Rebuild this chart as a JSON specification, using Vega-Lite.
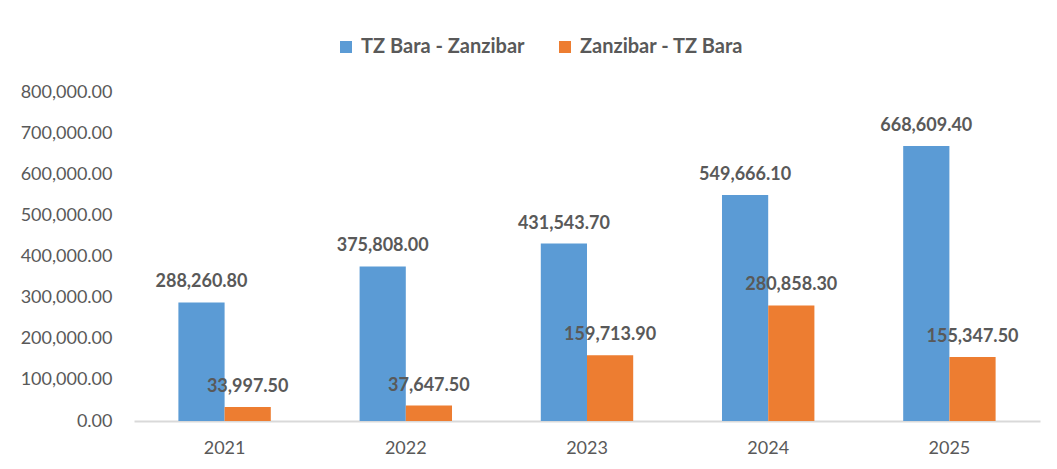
{
  "$schema": "https://vega.github.io/schema/vega-lite/v6.json",
  "autosize": {"type": "none"},
  "width": 906,
  "height": 329,
  "padding": {"left": 134, "top": 92, "right": 17, "bottom": 48},
  "background": "white",
  "config": {
    "view": {"stroke": null},
    "font": "Lato"
  },
  "data": {
    "values": [
      {"year": "2021", "series": "TZ Bara - Zanzibar", "value": 288260.8},
      {"year": "2021", "series": "Zanzibar - TZ Bara", "value": 33997.5},
      {"year": "2022", "series": "TZ Bara - Zanzibar", "value": 375808.0},
      {"year": "2022", "series": "Zanzibar - TZ Bara", "value": 37647.5},
      {"year": "2023", "series": "TZ Bara - Zanzibar", "value": 431543.7},
      {"year": "2023", "series": "Zanzibar - TZ Bara", "value": 159713.9},
      {"year": "2024", "series": "TZ Bara - Zanzibar", "value": 549666.1},
      {"year": "2024", "series": "Zanzibar - TZ Bara", "value": 280858.3},
      {"year": "2025", "series": "TZ Bara - Zanzibar", "value": 668609.4},
      {"year": "2025", "series": "Zanzibar - TZ Bara", "value": 155347.5}
    ]
  },
  "encoding": {
    "x": {
      "field": "year",
      "type": "nominal",
      "scale": {"paddingInner": 0.49, "paddingOuter": 0.245},
      "axis": {
        "title": null,
        "labelAngle": 0,
        "ticks": false,
        "domainColor": "#d9d9d9",
        "domainWidth": 2,
        "labelColor": "#595959",
        "labelFontSize": 18,
        "labelFont": "Lato",
        "labelPadding": 18
      }
    },
    "xOffset": {"field": "series", "type": "nominal", "sort": ["TZ Bara - Zanzibar", "Zanzibar - TZ Bara"]},
    "y": {
      "field": "value",
      "type": "quantitative",
      "scale": {"domain": [0, 800000], "nice": false},
      "axis": {
        "title": null,
        "values": [0, 100000, 200000, 300000, 400000, 500000, 600000, 700000, 800000],
        "format": ",.2f",
        "grid": false,
        "domain": false,
        "ticks": false,
        "labelColor": "#595959",
        "labelFontSize": 18,
        "labelFont": "Lato",
        "labelPadding": 22
      }
    }
  },
  "layer": [
    {
      "mark": {"type": "bar"},
      "encoding": {
        "color": {
          "field": "series",
          "type": "nominal",
          "scale": {"domain": ["TZ Bara - Zanzibar", "Zanzibar - TZ Bara"], "range": ["#5B9BD5", "#ED7D31"]},
          "legend": {
            "title": null,
            "orient": "none",
            "direction": "horizontal",
            "legendX": 202,
            "legendY": -55,
            "padding": 0,
            "symbolType": "square",
            "symbolSize": 144,
            "symbolStrokeWidth": 0,
            "labelFont": "Lato",
            "labelFontSize": 20,
            "labelFontWeight": "bold",
            "labelColor": "#595959",
            "labelOffset": 5,
            "labelLimit": 400,
            "columnPadding": 30
          }
        }
      }
    },
    {
      "mark": {"type": "text", "dy": -20, "baseline": "middle", "fontSize": 18, "fontWeight": "bold", "font": "Lato", "color": "#595959"},
      "encoding": {
        "text": {"field": "value", "type": "quantitative", "format": ",.2f"}
      }
    }
  ]
}
